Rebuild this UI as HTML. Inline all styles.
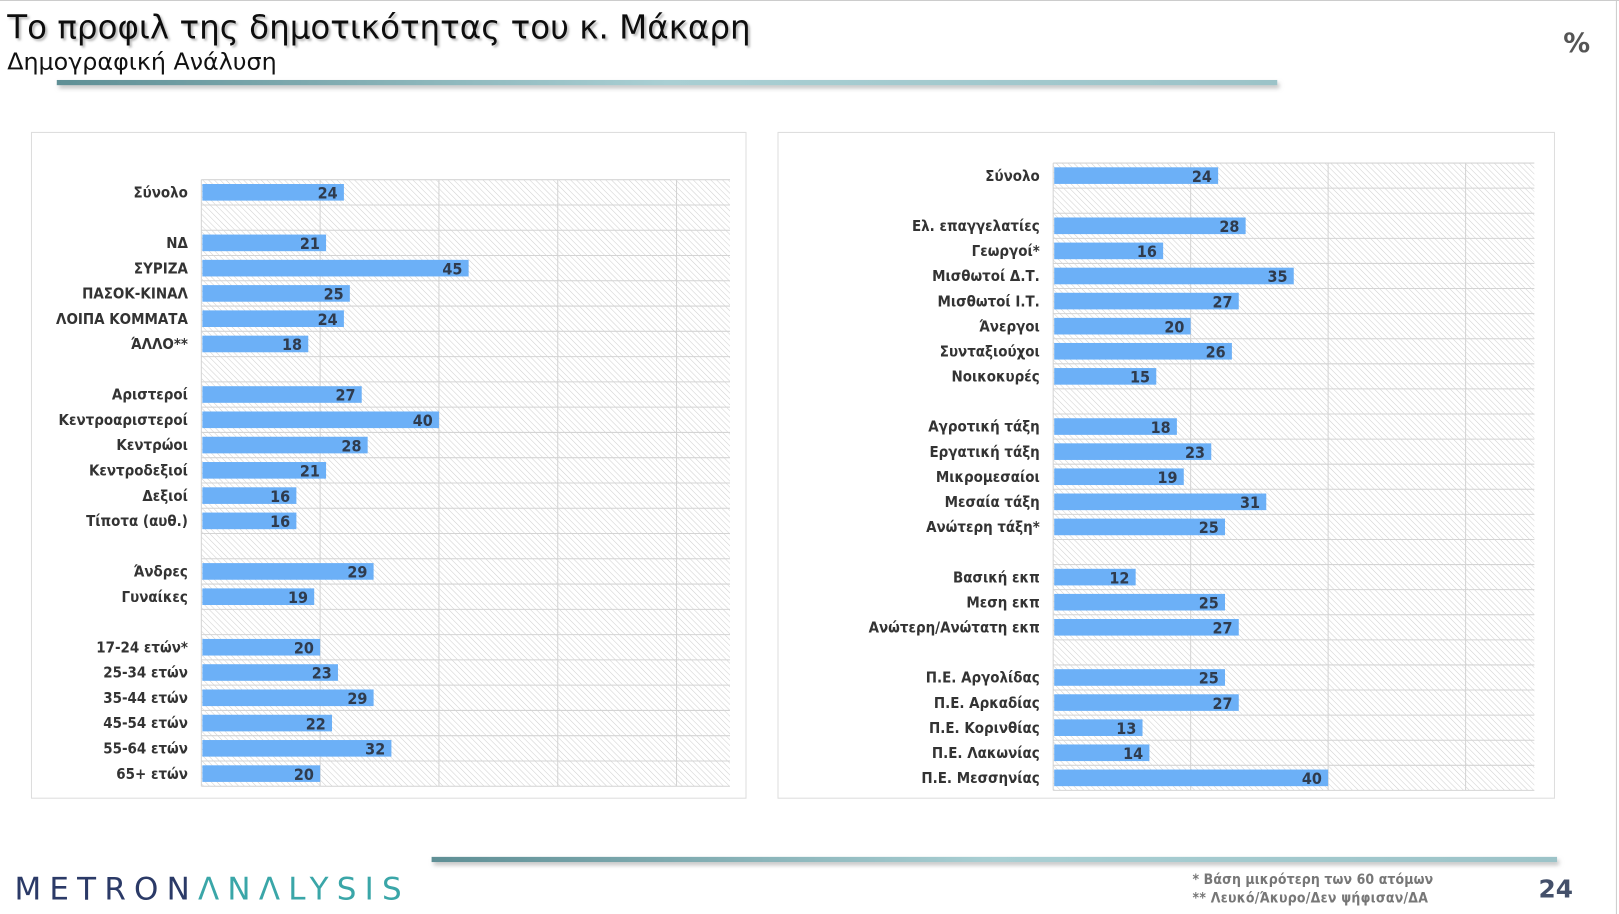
<!DOCTYPE html>
<html><head><meta charset="utf-8">
<style>
html,body{margin:0;padding:0;background:#fff;width:1619px;height:914px;overflow:hidden}
svg{display:block}
text{font-family:"DejaVu Sans","Liberation Sans",sans-serif}
.cond{font-family:"DejaVu Sans Condensed","DejaVu Sans","Liberation Sans",sans-serif}
</style></head>
<body>
<svg id="root" width="1619" height="914" viewBox="0 0 1568 880" preserveAspectRatio="none">
<defs>
<pattern id="hatch" width="4" height="4" patternUnits="userSpaceOnUse" patternTransform="rotate(-45)">
<rect width="4" height="4" fill="#fff"/>
<line x1="0" y1="0" x2="0" y2="4" stroke="#cfcfcf" stroke-width="1"/>
</pattern>
<linearGradient id="lineg" x1="0" x2="1">
<stop offset="0" stop-color="#5f8f95"/><stop offset="0.5" stop-color="#a9cfd3"/><stop offset="1" stop-color="#9cc3c8"/>
</linearGradient>
<filter id="sh" x="-5%" y="-50%" width="110%" height="300%"><feDropShadow dx="2" dy="3" stdDeviation="2" flood-color="#999" flood-opacity="0.6"/></filter>
<filter id="tsh"><feDropShadow dx="2" dy="2" stdDeviation="1" flood-color="#888" flood-opacity="0.6"/></filter>
</defs>
<line x1="0" y1="0.5" x2="1568" y2="0.5" stroke="#ccc"/>
<line x1="1565.5" y1="0" x2="1565.5" y2="880" stroke="#ccc"/>
<text x="7" y="37" font-size="32" fill="#111" filter="url(#tsh)" class="cond" textLength="720" lengthAdjust="spacingAndGlyphs">Το προφιλ της δημοτικότητας του κ. Μάκαρη</text>
<text x="7" y="67" font-size="22" fill="#111" class="cond" textLength="261" lengthAdjust="spacingAndGlyphs">Δημογραφική Ανάλυση</text>
<text x="1514" y="50" font-size="26" font-weight="bold" fill="#555">%</text>
<rect x="55" y="77" width="1182" height="5" fill="url(#lineg)" filter="url(#sh)"/>
<rect x="418" y="825" width="1090" height="5" fill="url(#lineg)" filter="url(#sh)"/>
<text x="14" y="866" font-size="30" letter-spacing="8" textLength="383"><tspan fill="#2b3a67">METRON</tspan><tspan fill="#3aa6a8">ΛNΛLYSIS</tspan></text>
<text x="1155" y="851" font-size="13.5" font-weight="bold" fill="#777" class="cond" textLength="233">*  Βάση μικρότερη των 60 ατόμων</text>
<text x="1155" y="869" font-size="13.5" font-weight="bold" fill="#777" class="cond" textLength="228">** Λευκό/Άκυρο/Δεν ψήφισαν/ΔΑ</text>
<text x="1490" y="864" font-size="24" font-weight="bold" fill="#44506a">24</text>
<rect x="30.5" y="127.5" width="692" height="641" fill="#fff" stroke="#ddd"/>
<rect x="753.5" y="127.5" width="752" height="641" fill="#fff" stroke="#ddd"/>
<g id="leftChart"></g>
<g id="rightChart"></g>
</svg>
<script>
const leftCategories = ["Σύνολο","","ΝΔ","ΣΥΡΙΖΑ","ΠΑΣΟΚ-ΚΙΝΑΛ","ΛΟΙΠΑ ΚΟΜΜΑΤΑ","ΆΛΛΟ**","","Αριστεροί","Κεντροαριστεροί","Κεντρώοι","Κεντροδεξιοί","Δεξιοί","Τίποτα (αυθ.)","","Άνδρες","Γυναίκες","","17-24 ετών*","25-34 ετών","35-44 ετών","45-54 ετών","55-64 ετών","65+ ετών"];
const leftValues = [24,null,21,45,25,24,18,null,27,40,28,21,16,16,null,29,19,null,20,23,29,22,32,20];
const rightCategories = ["Σύνολο","","Ελ. επαγγελατίες","Γεωργοί*","Μισθωτοί Δ.Τ.","Μισθωτοί Ι.Τ.","Άνεργοι","Συνταξιούχοι","Νοικοκυρές","","Αγροτική τάξη","Εργατική τάξη","Μικρομεσαίοι","Μεσαία τάξη","Ανώτερη τάξη*","","Βασική εκπ","Μεση εκπ","Ανώτερη/Ανώτατη εκπ","","Π.Ε. Αργολίδας","Π.Ε. Αρκαδίας","Π.Ε. Κορινθίας","Π.Ε. Λακωνίας","Π.Ε. Μεσσηνίας"];
const rightValues = [24,null,28,16,35,27,20,26,15,null,18,23,19,31,25,null,12,25,27,null,25,27,13,14,40];
const leftTicks = [0,20,40,60,80];
const rightTicks = [0,20,40,60];

const NS="http://www.w3.org/2000/svg";
function mk(tag,attrs,parent){const e=document.createElementNS(NS,tag);for(const k in attrs)e.setAttribute(k,attrs[k]);parent.appendChild(e);return e;}
function draw(g,cats,vals,ticks,x0,x1,max,y0,y1,prefix){
  const sx=v=>x0+(v/max)*(x1-x0);
  const n=cats.length, step=(y1-y0)/n;
  const bg=mk("rect",{x:x0,y:y0,width:x1-x0,height:y1-y0,fill:"url(#hatch)"},g);
  
  
  ticks.forEach(t=>{const l=mk("line",{x1:sx(t),x2:sx(t),y1:y0,y2:y1,stroke:"#d4d4d4"},g);
    
    });
  for(let i=0;i<=n;i++){const l=mk("line",{x1:x0,x2:x1,y1:y0+i*step,y2:y0+i*step,stroke:"#d4d4d4"},g);
    
    }
  cats.forEach((c,i)=>{
    const cy=y0+(i+0.5)*step;
    if(c){const t=mk("text",{x:x0-13,y:cy+5,"text-anchor":"end","font-size":"14.5","font-weight":"bold",fill:"#333",class:"cond"},g);t.textContent=c;
      
      }
    const v=vals[i];
    if(v!=null){
      const b=mk("rect",{x:x0+1,y:cy-8,width:sx(v)-x0-1,height:16,fill:"#6cb0f7"},g);
      
      
      const vt=mk("text",{x:sx(v)-6,y:cy+6,"text-anchor":"end","font-size":"15.5","font-weight":"bold",fill:"#2f3b4d",class:"cond"},g);vt.textContent=v;
      
      
    }
  });
}
draw(document.getElementById("leftChart"),leftCategories,leftValues,leftTicks,195,707,89,173,757,"left");
draw(document.getElementById("rightChart"),rightCategories,rightValues,rightTicks,1020,1486,70,157,761,"right");
</script>
</body></html>
